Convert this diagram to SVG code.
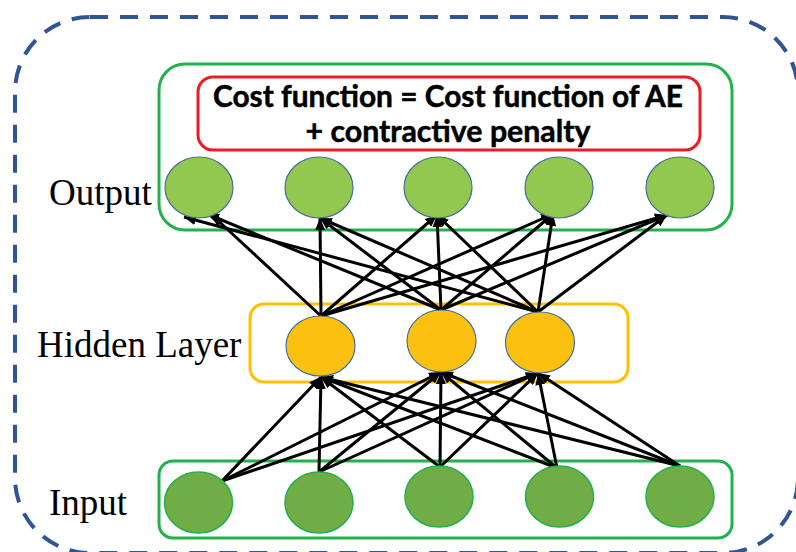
<svg xmlns="http://www.w3.org/2000/svg" width="796" height="552" viewBox="0 0 796 552">
  <style>
    .label { font-family: "Liberation Serif", "Times New Roman", serif; font-size: 37px; fill: #000; }
    .cost { font-family: Lato, "Liberation Sans", Arial, sans-serif; font-weight: 700; font-size: 30px; fill: #000; stroke: #000; stroke-width: 0.5; }
    .layer-green { fill: none; stroke: #22B14C; stroke-width: 3; }
    .out-node { fill: #92C84F; stroke: #41719C; stroke-width: 1.2; }
    .hid-node { fill: #FCC011; stroke: #41719C; stroke-width: 1.2; }
    .in-node { fill: #70AD47; stroke: #22B14C; stroke-width: 1.5; }
    .edge { stroke: #000; stroke-width: 3; fill: none; }
  </style>
  <defs>
    <marker id="arrow" markerUnits="userSpaceOnUse" markerWidth="12" markerHeight="10" refX="12" refY="5" orient="auto">
      <path d="M0,0 L12,5 L0,10 z" fill="#000"/>
    </marker>
  </defs>

  <rect width="796" height="552" fill="#fff"/>

  <!-- outer dashed frame -->
  <rect id="frame" x="15" y="17" width="783" height="536" rx="75" ry="75" fill="none" stroke="#2F5597" stroke-width="4" stroke-dasharray="18 12"/>

  <!-- layer labels -->
  <g id="labels">
    <text class="label" x="49" y="205">Output</text>
    <text class="label" x="37" y="357">Hidden Layer</text>
    <text class="label" x="49" y="515">Input</text>
  </g>

  <!-- output layer with cost function -->
  <g id="output-layer">
    <rect class="layer-green" x="159" y="64" width="573" height="166" rx="26" ry="26"/>
  </g>
  <g id="cost-function">
    <rect x="198" y="77" width="502" height="73" rx="15" ry="15" fill="none" stroke="#ED1C24" stroke-width="3"/>
    <text class="cost" x="448" y="107" text-anchor="middle" textLength="470" lengthAdjust="spacingAndGlyphs">Cost function = Cost function of AE</text>
    <text class="cost" x="448" y="142" text-anchor="middle" textLength="285" lengthAdjust="spacingAndGlyphs">+ contractive penalty</text>
  </g>

  <!-- hidden layer box -->
  <g id="hidden-layer">
    <rect x="250" y="304" width="378" height="78" rx="14" ry="14" fill="none" stroke="#FFC000" stroke-width="3"/>
  </g>

  <!-- input layer box -->
  <g id="input-layer">
    <rect class="layer-green" x="159" y="461" width="573" height="77" rx="14" ry="14"/>
  </g>

  <!-- connectors: input -> hidden, hidden -> output -->
  <g id="connectors" class="edges">
    <!-- input 1 -->
    <line class="edge" x1="222" y1="481" x2="321" y2="377" marker-end="url(#arrow)"/>
    <line class="edge" x1="222" y1="481" x2="441" y2="372" marker-end="url(#arrow)"/>
    <line class="edge" x1="222" y1="481" x2="538" y2="373" marker-end="url(#arrow)"/>
    <!-- input 2 -->
    <line class="edge" x1="319" y1="472" x2="321" y2="377" marker-end="url(#arrow)"/>
    <line class="edge" x1="319" y1="472" x2="441" y2="372" marker-end="url(#arrow)"/>
    <line class="edge" x1="319" y1="472" x2="538" y2="373" marker-end="url(#arrow)"/>
    <!-- input 3 -->
    <line class="edge" x1="440" y1="467" x2="321" y2="377" marker-end="url(#arrow)"/>
    <line class="edge" x1="440" y1="467" x2="441" y2="372" marker-end="url(#arrow)"/>
    <line class="edge" x1="440" y1="467" x2="538" y2="373" marker-end="url(#arrow)"/>
    <!-- input 4 -->
    <line class="edge" x1="557" y1="468" x2="321" y2="377" marker-end="url(#arrow)"/>
    <line class="edge" x1="557" y1="468" x2="441" y2="372" marker-end="url(#arrow)"/>
    <line class="edge" x1="557" y1="468" x2="538" y2="373" marker-end="url(#arrow)"/>
    <!-- input 5 -->
    <line class="edge" x1="680" y1="466" x2="321" y2="377" marker-end="url(#arrow)"/>
    <line class="edge" x1="680" y1="466" x2="441" y2="372" marker-end="url(#arrow)"/>
    <line class="edge" x1="680" y1="466" x2="538" y2="373" marker-end="url(#arrow)"/>

    <!-- hidden 1 -->
    <line class="edge" x1="321" y1="316" x2="212" y2="215" marker-end="url(#arrow)"/>
    <line class="edge" x1="321" y1="316" x2="320" y2="218" marker-end="url(#arrow)"/>
    <line class="edge" x1="321" y1="316" x2="437" y2="215" marker-end="url(#arrow)"/>
    <line class="edge" x1="321" y1="316" x2="553" y2="214" marker-end="url(#arrow)"/>
    <line class="edge" x1="321" y1="316" x2="667" y2="215" marker-end="url(#arrow)"/>
    <!-- hidden 2 -->
    <line class="edge" x1="441" y1="310" x2="207" y2="214" marker-end="url(#arrow)"/>
    <line class="edge" x1="441" y1="310" x2="320" y2="218" marker-end="url(#arrow)"/>
    <line class="edge" x1="441" y1="310" x2="437" y2="215" marker-end="url(#arrow)"/>
    <line class="edge" x1="441" y1="310" x2="553" y2="214" marker-end="url(#arrow)"/>
    <line class="edge" x1="441" y1="310" x2="667" y2="215" marker-end="url(#arrow)"/>
    <!-- hidden 3 -->
    <line class="edge" x1="538" y1="312" x2="184" y2="217" marker-end="url(#arrow)"/>
    <line class="edge" x1="538" y1="312" x2="320" y2="218" marker-end="url(#arrow)"/>
    <line class="edge" x1="538" y1="312" x2="437" y2="215" marker-end="url(#arrow)"/>
    <line class="edge" x1="538" y1="312" x2="553" y2="214" marker-end="url(#arrow)"/>
    <line class="edge" x1="538" y1="312" x2="667" y2="215" marker-end="url(#arrow)"/>
  </g>

  <!-- output neurons -->
  <g id="out1"><ellipse class="out-node" cx="199" cy="187.5" rx="34" ry="30.5"/></g>
  <g id="out2"><ellipse class="out-node" cx="319" cy="187.5" rx="34" ry="30.5"/></g>
  <g id="out3"><ellipse class="out-node" cx="438" cy="187.5" rx="34" ry="30.5"/></g>
  <g id="out4"><ellipse class="out-node" cx="559" cy="187.5" rx="34" ry="30.5"/></g>
  <g id="out5"><ellipse class="out-node" cx="680" cy="187.5" rx="34" ry="30.5"/></g>

  <!-- hidden neurons -->
  <g id="hid1"><ellipse class="hid-node" cx="320.5" cy="346" rx="34.5" ry="30"/></g>
  <g id="hid2"><ellipse class="hid-node" cx="441.5" cy="341" rx="34.5" ry="31"/></g>
  <g id="hid3"><ellipse class="hid-node" cx="540" cy="342.5" rx="34.5" ry="30.5"/></g>

  <!-- input neurons -->
  <g id="in1"><ellipse class="in-node" cx="198.5" cy="502.5" rx="34" ry="30.5"/></g>
  <g id="in2"><ellipse class="in-node" cx="319" cy="502.5" rx="34" ry="30.5"/></g>
  <g id="in3"><ellipse class="in-node" cx="439" cy="496.5" rx="34" ry="30.5"/></g>
  <g id="in4"><ellipse class="in-node" cx="559.5" cy="496.5" rx="34" ry="30.5"/></g>
  <g id="in5"><ellipse class="in-node" cx="680" cy="496.5" rx="34" ry="30.5"/></g>
</svg>
